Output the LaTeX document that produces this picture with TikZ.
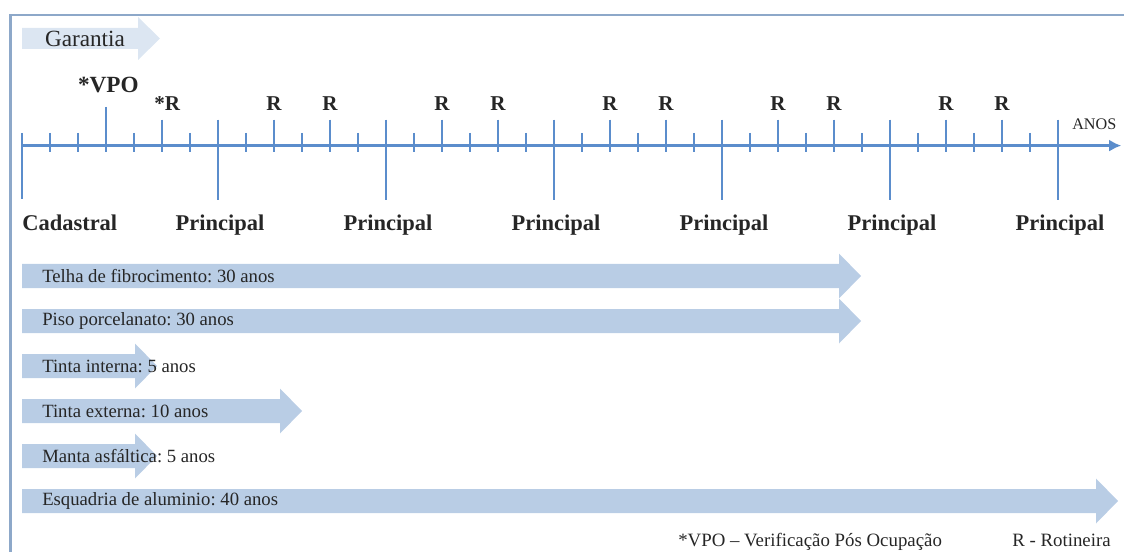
\documentclass[tikz,border=0pt]{standalone}
\usepackage{fontspec}
\setmainfont{Liberation Serif}
\usetikzlibrary{arrows.meta}
\definecolor{azulEixo}{RGB}{91,141,204}
\definecolor{azulBarra}{RGB}{185,205,229}
\definecolor{azulGarantia}{RGB}{220,230,242}
\definecolor{cinzaMoldura}{RGB}{141,168,201}
\definecolor{texto}{RGB}{38,38,38}
\frenchspacing

\begin{document}
\begin{tikzpicture}[
    eixo/.style    ={line width=1.6pt, azulEixo, -{Latex[length=3mm, width=3mm]}},
    traco/.style   ={line width=1.3pt, azulEixo},
    moldura/.style ={line width=1.6pt, cinzaMoldura},
    marco/.style   ={font=\fontsize{16}{18}\selectfont\bfseries, text=texto,
                     inner sep=0pt, anchor=base},
    rot/.style     ={font=\fontsize{15}{17}\selectfont\bfseries, text=texto,
                     inner sep=0pt, anchor=base},
    barra/.style   ={fill=azulBarra, draw=none},
    txtbarra/.style={font=\fontsize{13.3}{15}\selectfont, text=texto,
                     inner sep=0pt, anchor=west},
    legenda/.style ={font=\fontsize{13.4}{15}\selectfont, text=texto,
                     inner sep=0pt, anchor=base west}
]
\useasboundingbox (0,0) rectangle (28.1,-13.8);

% ============================================================
% MOLDURA E GARANTIA
% ============================================================

\draw[moldura] (0.2625,-13.8) -- (0.2625,-0.375) -- (28.1,-0.375);

\fill[azulGarantia] (0.55,-0.7) -- (3.45,-0.7) -- (3.45,-0.425) -- (4.0,-0.9625)
    -- (3.45,-1.5) -- (3.45,-1.225) -- (0.55,-1.225) -- cycle;
\node[font=\fontsize{16.5}{18}\selectfont, text=texto] (garantia) at (2.125,-0.9625) {Garantia};

% ============================================================
% LINHA DO TEMPO
% ============================================================

\coordinate (origem) at (0.55,-3.64);
\coordinate (fim)    at (28.03,-3.64);
\draw[eixo] (origem) -- (fim);

% -- tracos pequenos (anos) --
\foreach \k in {1,2,4,6,8,10,12,14,16,18,20,22,24,26,28,30,32,34,36}
    \draw[traco] ({0.55+0.7*\k},-3.325) -- ({0.55+0.7*\k},-3.8);

% -- inspecoes rotineiras --
\foreach \k in {5,9,11,15,17,21,23,27,29,33,35}
    \draw[traco] ({0.55+0.7*\k},-2.99) -- ({0.55+0.7*\k},-3.8);

% -- inspecoes principais --
\foreach \k in {7,13,19,25,31,37}
    \draw[traco] ({0.55+0.7*\k},-2.99) -- ({0.55+0.7*\k},-5.0);

% -- VPO e cadastral --
\draw[traco] (2.65,-2.675) -- (2.65,-3.8);
\draw[traco] (0.55,-3.325) -- (0.55,-4.975);

% -- rotulos --
\node[rot, font=\fontsize{16.5}{18}\selectfont\bfseries] (vpo) at (2.71,-2.32) {*VPO};
\node[rot, anchor=base west] (r5) at (3.85,-2.77) {*R};
\foreach \k in {9,11,15,17,21,23,27,29,33,35}
    \node[rot] (r\k) at ({0.55+0.7*\k},-2.77) {R};

\node[marco, anchor=base west] (cadastral) at (0.55,-5.76) {Cadastral};
\foreach \k in {7,13,19,25,31,37}
    \node[marco] (p\k) at ({0.6+0.7*\k},-5.76) {Principal};

\node[font=\fontsize{11.5}{13}\selectfont, text=texto, inner sep=0pt,
      anchor=base west] (anos) at (26.8,-3.25) {ANOS};

% ============================================================
% VIDA UTIL DOS SISTEMAS
% ============================================================

\foreach \nome/\y/\ponta/\txt in {
    telha/-6.9/21.525/{Telha de fibrocimento: 30 anos},
    piso/-8.025/21.525/{Piso porcelanato: 30 anos},
    tintaint/-9.15/3.925/{Tinta interna: 5 anos},
    tintaext/-10.275/7.55/{Tinta externa: 10 anos},
    manta/-11.4/3.925/{Manta asfáltica: 5 anos},
    esquadria/-12.525/27.95/{Esquadria de aluminio: 40 anos}}{
    \fill[barra] (0.55,\y+0.3) -- (\ponta-0.55,\y+0.3) -- (\ponta-0.55,\y+0.5625)
        -- (\ponta,\y) -- (\ponta-0.55,\y-0.5625) -- (\ponta-0.55,\y-0.3)
        -- (0.55,\y-0.3) -- cycle;
    \node[txtbarra] (\nome) at (1.05,\y) {\txt};
}

% -- legenda --
\node[legenda] (legvpo) at (16.95,-13.65) {*VPO -- Verificação Pós Ocupação};
\node[legenda] (legr)   at (25.3,-13.65)  {R - Rotineira};

\end{tikzpicture}
\end{document}
